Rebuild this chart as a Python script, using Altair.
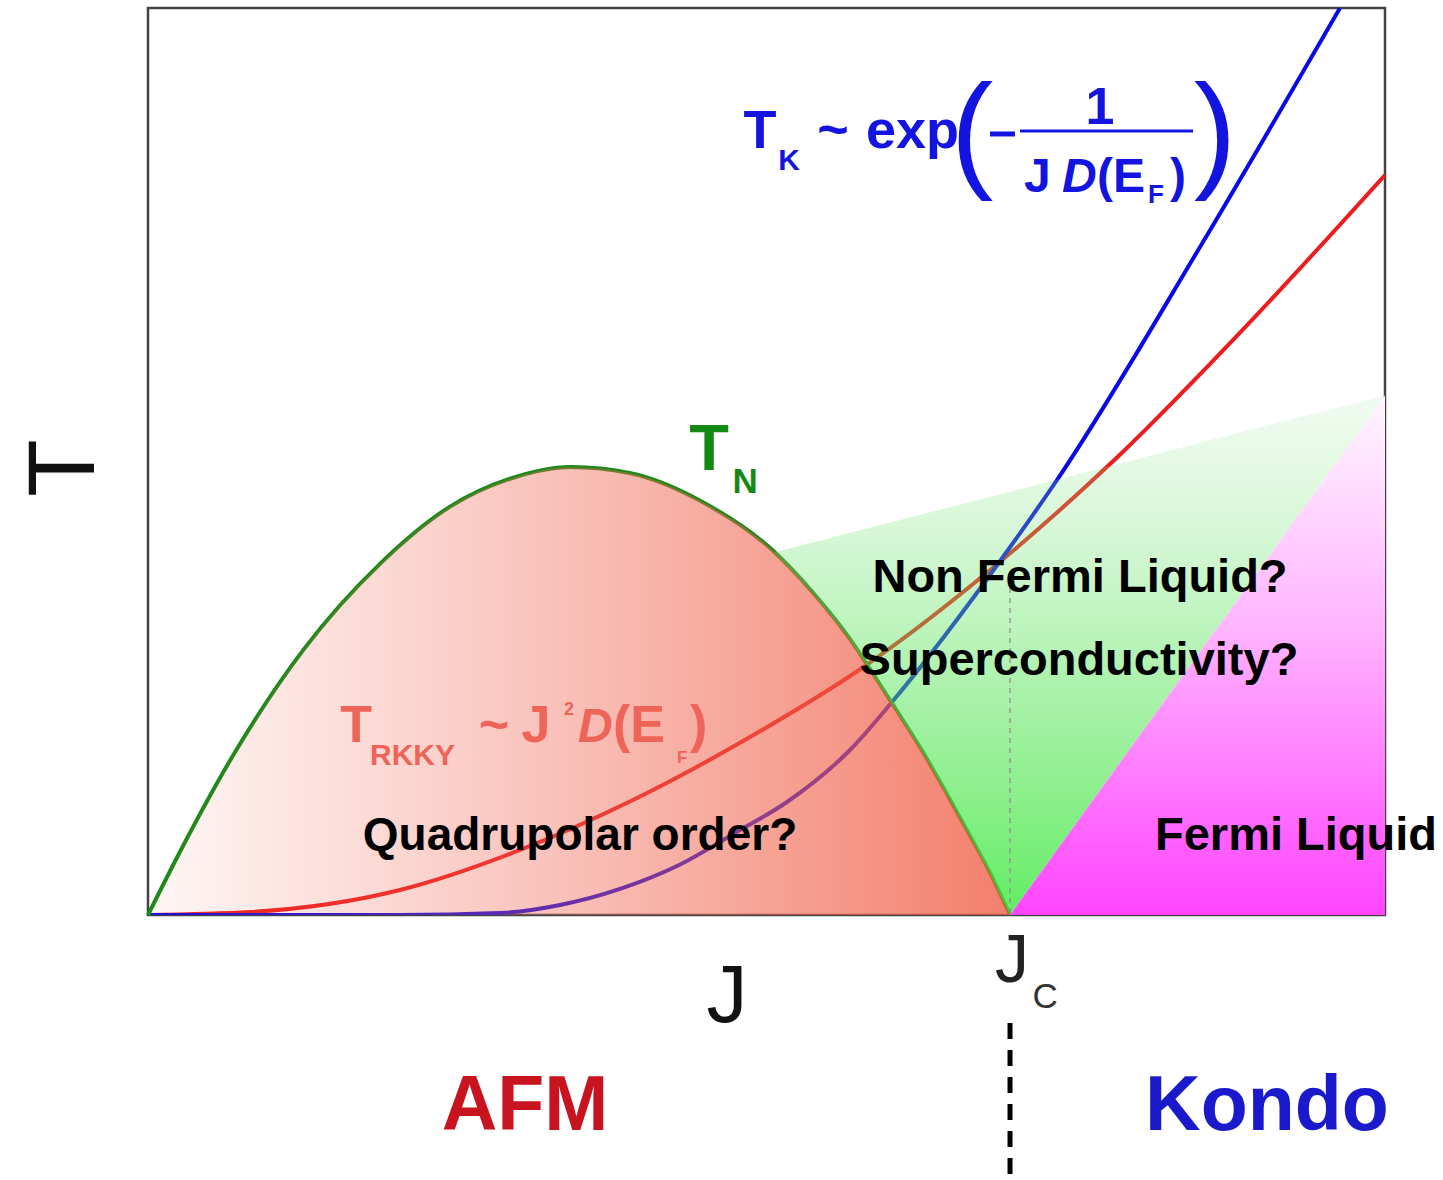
import altair as alt
import pandas as pd

FONT = "Liberation Sans"

# ---------------- data (J in units of J_C, T arbitrary) -------------
# Neel temperature dome T_N(J)
tn_j = [0, 0.04, 0.10, 0.18, 0.27, 0.35, 0.42, 0.49, 0.56, 0.64, 0.727, 0.77, 0.81, 0.86, 0.90, 0.93, 0.955, 0.975, 1.0]
tn_t = [0, 0.075, 0.178, 0.292, 0.388, 0.450, 0.481, 0.494, 0.487, 0.457, 0.400, 0.357, 0.310, 0.238, 0.178, 0.128, 0.085, 0.050, 0]

# RKKY scale  T_RKKY ~ J^2 D(E_F)
rkky_j = [0, 0.1183, 0.2923, 0.4316, 0.5626, 0.6984, 0.8283, 0.9977, 1.1160, 1.2784, 1.4350]
rkky_t = [0, 0.0033, 0.0276, 0.0717, 0.1268, 0.1962, 0.2723, 0.3969, 0.4972, 0.6538, 0.8159]

# Kondo scale  T_K ~ exp(-1/(J D(E_F)))
kondo_j = [0, 0.2923, 0.4084, 0.4780, 0.5476, 0.6137, 0.6868, 0.7413, 0.8144, 0.8631, 0.9977, 1.0545, 1.2204, 1.3828]
kondo_t = [0, 0, 0.0022, 0.0110, 0.0287, 0.0540, 0.0937, 0.1246, 0.1819, 0.2348, 0.4024, 0.4796, 0.7365, 1.0]

# region corners
nfl_start_j = 0.727                 # where the non-Fermi-liquid wedge leaves the dome
corner_j, corner_t = 1.435, 0.573   # right-hand corner shared by NFL and FL regions
J_C = 1.0
fl_j = [1.0, 1.435]
fl_t = [0.0, 0.573]

J_MAX = 1.435
T_MAX = 1.0

# ---------------- scales ----------------
xs = alt.Scale(domain=[0, J_MAX], nice=False, zero=False)
ys = alt.Scale(domain=[0, T_MAX], nice=False, zero=False)


def X(f="J"):
    return alt.X(f"{f}:Q", scale=xs, axis=None)


def Y(f="T"):
    return alt.Y(f"{f}:Q", scale=ys, axis=None)


def grad(stops, x2=1, y2=0):
    return alt.Gradient(
        gradient="linear",
        stops=[alt.GradientStop(color=c, offset=o) for o, c in stops],
        x1=0, y1=0, x2=x2, y2=y2,
    )


dome = pd.DataFrame({"J": tn_j, "T": tn_t})
rkky = pd.DataFrame({"J": rkky_j, "T": rkky_t})
kondo = pd.DataFrame({"J": kondo_j, "T": kondo_t})

# NFL wedge polygon: dome from its start down to J_C, then the corner
wedge_rows = [(j, t) for j, t in zip(tn_j, tn_t) if j >= nfl_start_j]
wedge_rows.append((corner_j, corner_t))
wedge = pd.DataFrame({"J": [r[0] for r in wedge_rows],
                      "T": [r[1] for r in wedge_rows],
                      "k": list(range(len(wedge_rows)))})
fl = pd.DataFrame({"J": fl_j, "T": fl_t, "T0": [0.0, 0.0]})

layers = []

# curves (under the translucent fills)
layers.append(alt.Chart(rkky).mark_line(interpolate="monotone", color="#ee1c1c", strokeWidth=4, clip=True)
              .encode(x=X(), y=Y()))
layers.append(alt.Chart(kondo).mark_line(interpolate="monotone", color="#0a0ae6", strokeWidth=4, clip=True)
              .encode(x=X(), y=Y()))
layers.append(alt.Chart(dome).mark_line(interpolate="monotone", color="#178a17", strokeWidth=4)
              .encode(x=X(), y=Y()))

# AFM dome fill
afm_fill = grad([(0, "rgba(240,110,90,0.06)"), (0.5, "rgba(240,100,80,0.42)"), (1, "rgba(240,95,70,0.80)")])
layers.append(alt.Chart(dome).mark_area(interpolate="monotone", color=afm_fill)
              .encode(x=X(), y=Y(), y2=alt.Y2("z:Q")).transform_calculate(z="0"))

# NFL wedge fill
nfl_fill = grad([(0, "rgba(150,228,150,0.14)"), (0.5, "rgba(90,228,90,0.45)"), (1, "rgba(60,232,60,0.80)")], x2=0, y2=1)
layers.append(alt.Chart(wedge).mark_line(fill=nfl_fill, strokeOpacity=0, strokeWidth=0)
              .encode(x=X(), y=Y(), order=alt.Order("k:Q")))

# Fermi liquid fill
fl_fill = grad([(0, "#fff6ff"), (0.45, "#ffb4ff"), (1, "#ff44ff")], x2=0, y2=1)
layers.append(alt.Chart(fl).mark_area(color=fl_fill)
              .encode(x=X(), y=Y(), y2=alt.Y2("T0:Q")))

# thin dashed guide at J_C inside the plot
layers.append(alt.Chart(pd.DataFrame({"J": [J_C], "T": [0.3605], "T2": [0.0]}))
              .mark_rule(color="#8a8a8a", strokeWidth=1.2, strokeDash=[5, 5])
              .encode(x=X(), y=Y(), y2=alt.Y2("T2:Q")))

# thick dashed separator below the axis
layers.append(alt.Chart(pd.DataFrame({"J": [J_C], "T": [-0.119], "T2": [-0.292]}))
              .mark_rule(color="#000000", strokeWidth=5, strokeDash=[16, 11])
              .encode(x=X(), y=Y(), y2=alt.Y2("T2:Q")))


def label(text, j, t, size, color, weight="normal", align="center", style="normal",
          angle=None, baseline="alphabetic"):
    df = pd.DataFrame({"J": [j], "T": [t], "label": [text]})
    kw = dict(fontSize=size, color=color, fontWeight=weight, align=align,
              baseline=baseline, font=FONT, fontStyle=style)
    if angle is not None:
        kw["angle"] = angle
    return alt.Chart(df).mark_text(**kw).encode(x=X(), y=Y(), text="label:N")


def hbar(j1, j2, t, width, color):
    df = pd.DataFrame({"J": [j1], "J2": [j2], "T": [t]})
    return alt.Chart(df).mark_rule(color=color, strokeWidth=width).encode(
        x=X(), x2=alt.X2("J2:Q"), y=Y())


BLUE = "#1414e0"
RKKY_C = "#ee6458"
GREEN = "#148a14"

# axis titles
layers.append(label("T", -0.0951, 0.4928, 94, "#111111", baseline="middle", angle=270))
layers.append(label("J", 0.6717, -0.118, 82, "#111111"))
layers.append(label("J", 1.0023, -0.0739, 68, "#222222"))
layers.append(label("C", 1.0406, -0.1025, 35, "#333333"))

# bottom regime names
layers.append(label("AFM", 0.4374, -0.237, 77, "#c8141e", weight="bold"))
layers.append(label("Kondo", 1.2981, -0.237, 77, "#1a1acc", weight="bold"))

# T_N
layers.append(label("T", 0.6508, 0.4906, 65, GREEN, weight="bold"))
layers.append(label("N", 0.6926, 0.4653, 35, GREEN, weight="bold"))

# region labels
layers.append(label("Non Fermi Liquid?", 1.0812, 0.3561, 47, "#000000", weight="bold"))
layers.append(label("Superconductivity?", 1.0800, 0.2646, 47, "#000000", weight="bold"))
layers.append(label("Quadrupolar order?", 0.5012, 0.0717, 46, "#000000", weight="bold"))
layers.append(label("Fermi Liquid", 1.1682, 0.0717, 47, "#000000", weight="bold", align="left"))

# T_K formula
layers.append(label("T", 0.7100, 0.8457, 54, BLUE, weight="bold"))
layers.append(label("K", 0.7436, 0.8214, 30, BLUE, weight="bold"))
layers.append(label("~", 0.7947, 0.8457, 54, BLUE, weight="bold"))
layers.append(label("exp", 0.8329, 0.8457, 54, BLUE, weight="bold", align="left"))
layers.append(label("(", 0.9559, 0.8170, 128, BLUE))
layers.append(hbar(0.9768, 1.0058, 0.8611, 5, BLUE))
layers.append(label("1", 1.1044, 0.8721, 52, BLUE, weight="bold"))
layers.append(hbar(1.0116, 1.2123, 0.8644, 3, BLUE))
layers.append(label("J", 1.0162, 0.7971, 48, BLUE, weight="bold", align="left"))
layers.append(label("D", 1.0603, 0.7971, 48, BLUE, weight="bold", align="left", style="italic"))
layers.append(label("(E", 1.1009, 0.7971, 48, BLUE, weight="bold", align="left"))
layers.append(label("F", 1.1601, 0.7850, 26, BLUE, weight="bold", align="left"))
layers.append(label(")", 1.1856, 0.7971, 48, BLUE, weight="bold", align="left"))
layers.append(label(")", 1.2378, 0.8170, 128, BLUE))

# T_RKKY formula
layers.append(label("T", 0.2413, 0.1907, 52, RKKY_C, weight="bold"))
layers.append(label("RKKY", 0.2575, 0.1654, 30, RKKY_C, weight="bold", align="left"))
layers.append(label("~", 0.4014, 0.1907, 52, RKKY_C, weight="bold"))
layers.append(label("J", 0.4501, 0.1907, 52, RKKY_C, weight="bold"))
layers.append(label("2", 0.4884, 0.2205, 18, RKKY_C, weight="bold"))
layers.append(label("D", 0.4988, 0.1907, 48, RKKY_C, weight="bold", align="left", style="italic"))
layers.append(label("(E", 0.5394, 0.1907, 52, RKKY_C, weight="bold", align="left"))
layers.append(label("F", 0.6137, 0.1676, 17, RKKY_C, weight="bold", align="left"))
layers.append(label(")", 0.6288, 0.1907, 52, RKKY_C, weight="bold", align="left"))

chart = alt.layer(*layers).properties(
    width=1237,
    height=907,
    padding={"left": 148, "top": 8, "right": 58, "bottom": 265},
    autosize=alt.AutoSizeParams(type="none"),
    background="white",
).configure_view(stroke="#444444", strokeWidth=2.5)

chart.save("out.html", embed_options={"renderer": "svg", "actions": False})
